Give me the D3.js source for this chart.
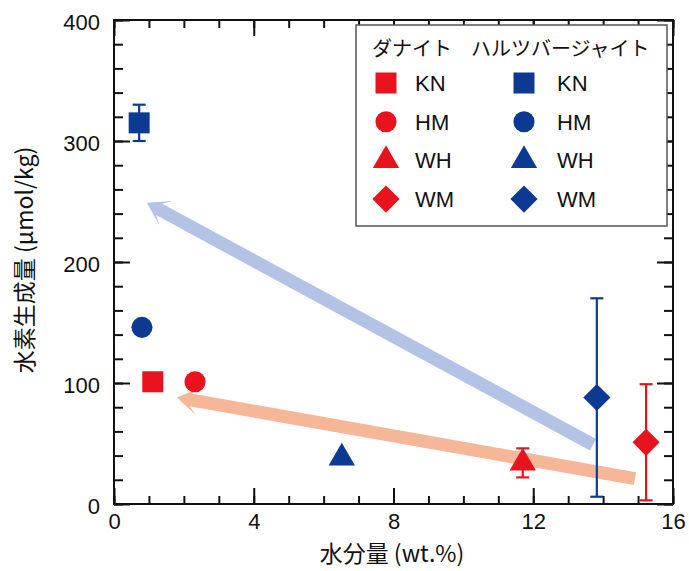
<!DOCTYPE html>
<meta charset="utf-8">
<style>
  body { margin: 0; background: #fff; }
  text { font-family: "Liberation Sans", Arial, "Noto Sans CJK JP", sans-serif; fill: #111; }
  .jp { font-family: "Noto Sans CJK JP", "Liberation Sans", sans-serif; }
</style>
<div id="container"></div>
<script src="https://cdn.jsdelivr.net/npm/d3@7"></script>
<script>
// series / sample names
const seriesNames = ["ダナイト", "ハルツバージャイト"];
const samples = ["KN", "HM", "WH", "WM"];
const shapes = ["square", "circle", "triangle", "diamond"];

// water content (wt.%) and H2 yield (umol/kg)
const duniteWater = [1.11, 2.32, 11.7, 15.23];
const duniteH2 = [101, 101, 34, 51];
const duniteErr = [0, 0, 12, 48];
const harzWater = [0.72, 0.8, 6.52, 13.82];
const harzH2 = [315, 146, 38, 88];
const harzErr = [15, 0, 0, 82];

// trend arrows [tail, tip] in data units
const blueArrow = [[13.71, 49], [0.94, 249]];
const redArrow = [[14.91, 21], [1.8, 88]];

const xTicks = [0, 4, 8, 12, 16];
const yTicks = [0, 100, 200, 300, 400];

const W = 689, H = 571;
const mLeft = 114, mRight = 673, mTop = 20, mBottom = 504;
const red = "#e8131d", blue = "#0c3a93";

const svg = d3.select("#container").append("svg")
    .attr("width", W).attr("height", H);

const x = d3.scaleLinear().domain([0, 16]).range([mLeft, mRight]);
const y = d3.scaleLinear().domain([0, 400]).range([mBottom, mTop]);

// minor ticks on all 4 sides
const xMinor = d3.range(0, 17, 1), yMinor = d3.range(0, 401, 20);
function addAxis(axis, transform, vals, size, labels, pad) {
    const g = svg.append("g").attr("transform", transform)
        .call(axis.tickValues(vals).tickSize(-size).tickPadding(pad)
            .tickFormat(labels ? d3.format("d") : ""));
    g.select(".domain").remove();
    g.selectAll("line").attr("stroke", "#111").attr("stroke-width", 2);
    g.selectAll("text").attr("font-size", 22).attr("fill", "#111");
    return g;
}
addAxis(d3.axisBottom(x), `translate(0,${mBottom})`, xMinor, 8, false, 0);
addAxis(d3.axisBottom(x), `translate(0,${mBottom})`, xTicks, 16, true, 9);
addAxis(d3.axisTop(x), `translate(0,${mTop})`, xMinor, 8, false, 0);
addAxis(d3.axisTop(x), `translate(0,${mTop})`, xTicks, 16, false, 0);
addAxis(d3.axisLeft(y), `translate(${mLeft},0)`, yMinor, 9, false, 0);
addAxis(d3.axisLeft(y), `translate(${mLeft},0)`, yTicks, 16, true, 14)
    .selectAll("text").attr("dy", "0.45em");
addAxis(d3.axisRight(y), `translate(${mRight},0)`, yMinor, 9, false, 0);
addAxis(d3.axisRight(y), `translate(${mRight},0)`, yTicks, 16, false, 0);

svg.append("rect")
    .attr("x", mLeft).attr("y", mTop)
    .attr("width", mRight - mLeft).attr("height", mBottom - mTop)
    .attr("fill", "none").attr("stroke", "#111").attr("stroke-width", 2);

// axis titles
svg.append("text").attr("class", "jp")
    .attr("x", 392).attr("y", 562)
    .attr("text-anchor", "middle").attr("font-size", 23)
    .text("水分量 (wt.%)");
svg.append("text").attr("class", "jp")
    .attr("transform", "translate(33,260) rotate(-90)")
    .attr("text-anchor", "middle").attr("font-size", 23)
    .text("水素生成量 (μmol/kg)");

// arrows
function arrow(pts, color) {
    const [x0, y0] = [x(pts[0][0]), y(pts[0][1])];
    const [x1, y1] = [x(pts[1][0]), y(pts[1][1])];
    const ang = Math.atan2(y1 - y0, x1 - x0);
    const len = Math.hypot(x1 - x0, y1 - y0);
    const hw = 6.5, headW = 14, headL = 22, notch = 14;
    const p = [[0, -hw], [len - notch, -hw], [len - headL, -headW], [len, 0],
               [len - headL, headW], [len - notch, hw], [0, hw]];
    svg.append("polygon")
        .attr("points", p.map(d => d.join(",")).join(" "))
        .attr("transform", `translate(${x0},${y0}) rotate(${ang * 180 / Math.PI})`)
        .attr("fill", color);
}
arrow(blueArrow, "#b3c3e6");
arrow(redArrow, "#f6b799");

function symbolPath(shape) {
    if (shape === "square") return d3.symbol(d3.symbolSquare, 441)();
    if (shape === "circle") return d3.symbol(d3.symbolCircle, 350)();
    if (shape === "triangle") return d3.symbol(d3.symbolTriangle, 300)();
    return d3.symbol(d3.symbolSquare, 370)();
}
function drawMarker(g, shape, cx, cy, color) {
    g.append("path")
        .attr("d", symbolPath(shape))
        .attr("transform", `translate(${cx},${cy})` + (shape === "diamond" ? " rotate(45)" : ""))
        .attr("fill", color);
}

function drawSeries(water, h2, err, color) {
    const g = svg.append("g");
    water.forEach((w, i) => {
        const cx = x(w);
        if (err[i] > 0) {
            const y0 = y(h2[i] - err[i]), y1 = y(h2[i] + err[i]);
            g.append("line").attr("x1", cx).attr("x2", cx).attr("y1", y0).attr("y2", y1)
                .attr("stroke", color).attr("stroke-width", 2.2);
            [y0, y1].forEach(v => g.append("line")
                .attr("x1", cx - 6.5).attr("x2", cx + 6.5).attr("y1", v).attr("y2", v)
                .attr("stroke", color).attr("stroke-width", 2.2));
        }
        drawMarker(g, shapes[i], cx, y(h2[i]), color);
    });
}
drawSeries(harzWater, harzH2, harzErr, blue);
drawSeries(duniteWater, duniteH2, duniteErr, red);

// legend
const lg = svg.append("g");
lg.append("rect").attr("x", 356).attr("y", 25).attr("width", 311).attr("height", 201)
    .attr("fill", "#fff").attr("stroke", "#555").attr("stroke-width", 1.5);
const colX = [386, 524], labX = [415, 557], colors = [red, blue];
const headX = [372, 471];
seriesNames.forEach((s, j) => {
    lg.append("text").attr("class", "jp")
        .attr("x", headX[j]).attr("y", 56).attr("font-size", 20).text(s);
    samples.forEach((name, i) => {
        const ry = 83 + i * 38.7;
        drawMarker(lg, shapes[i], colX[j], ry, colors[j]);
        lg.append("text").attr("x", labX[j]).attr("y", ry + 8)
            .attr("font-size", 22).text(name);
    });
});
</script>
